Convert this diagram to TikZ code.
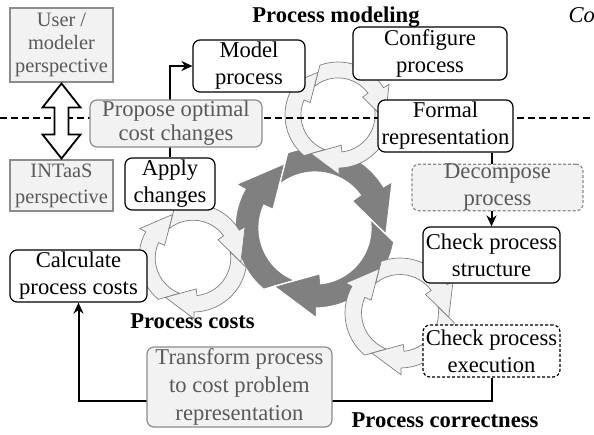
\documentclass[tikz,border=0pt]{standalone}
\usepackage{fontspec}
\setmainfont{Liberation Serif}
\newfontfamily\boxfont{Liberation Serif}
\usetikzlibrary{arrows.meta, calc}
\definecolor{ringgray}{HTML}{808080}
\definecolor{ringlight}{HTML}{F2F2F2}
\definecolor{ringline}{HTML}{7F7F7F}
\definecolor{boxgray}{HTML}{F2F2F2}
\definecolor{textgray}{HTML}{595959}
\definecolor{linegray}{HTML}{8C8C8C}
\tikzstyle{boxStep} = [rectangle, rounded corners=7pt, align=center, inner sep=0pt, draw=black, line width=1.2pt, fill=white, font=\boxfont\fontsize{22.6}{27}\selectfont]
\tikzstyle{boxCheck} = [boxStep, dash pattern=on 3pt off 2pt]
\tikzstyle{boxGray} = [boxStep, draw=linegray, fill=boxgray, text=textgray]
\tikzstyle{boxGrayDash} = [boxGray, dash pattern=on 3pt off 2pt]
\tikzstyle{boxView} = [rectangle, align=center, inner sep=0pt, draw=linegray, line width=1.2pt, fill=boxgray, text=textgray, font=\boxfont\fontsize{20.4}{23}\selectfont]
\tikzstyle{phase} = [font=\boxfont\fontsize{22.6}{27}\selectfont\bfseries, anchor=base]
\tikzstyle{arrow} = [line width=2pt, ->, >={Stealth[length=11pt,width=10pt]}]
\tikzstyle{sepline} = [line width=1.8pt, dash pattern=on 7pt off 4pt]
\tikzstyle{bigArrow} = [fill=ringgray, draw=white, line width=1.2pt]
\tikzstyle{smallArrow} = [fill=ringlight, draw=ringline, line width=0.7pt]
% ring of three arrows, clockwise
\newcommand{\cycleRing}[3]{%
  \begin{scope}[shift={#1}, scale=#2]
    \foreach \tip in {115,-5,-125}
      \path[#3] ({\tip+134}:0.70) -- ({\tip+115}:1) arc[start angle=\tip+115, end angle=\tip+36, radius=1]
        -- ({\tip+36}:1.125) -- (\tip:0.89) -- ({\tip+41}:0.575) -- ({\tip+41}:0.70)
        arc[start angle=\tip+41, end angle=\tip+134, radius=0.70] -- cycle;
  \end{scope}}

\begin{document}
\begin{tikzpicture}[x=1pt, y=1pt]
\useasboundingbox (0,0) rectangle (594,-434);

% cycles
\cycleRing{(315,-228)}{80}{bigArrow}
\cycleRing{(338,-115)}{53}{smallArrow}
\cycleRing{(193,-258)}{54}{smallArrow}
\cycleRing{(400,-313)}{55}{smallArrow}

\draw [sepline] (0,-118) -- (594,-118);

\node (model) [boxStep, minimum width=112pt, minimum height=52pt] at (249,-66) {Model\\process};
\node (config) [boxStep, minimum width=154pt, minimum height=53pt] at (430,-53.5) {Configure\\process};
\node (formal) [boxStep, minimum width=135pt, minimum height=52pt] at (445.5,-126) {Formal\\representation};
\node (check) [boxStep, minimum width=137pt, minimum height=56pt] at (491.5,-255) {Check process\\structure};
\node (exec) [boxCheck, minimum width=137pt, minimum height=52pt] at (491.5,-351) {Check process\\execution};
\node (calc) [boxStep, minimum width=137pt, minimum height=52pt] at (78.5,-276) {Calculate\\process costs};
\node (apply) [boxStep, minimum width=90pt, minimum height=52pt] at (170,-184) {Apply\\changes};

\draw [arrow] (apply.north) |- (model.west);
\draw [arrow] (formal.south -| check.north) -- (check.north);
\draw [arrow] (exec.south) -- ++(0,-23) -| (calc.south);

\node (decomp) [boxGrayDash, minimum width=171pt, minimum height=45pt] at (497.5,-187.5) {Decompose\\process};
\node (transf) [boxGray, minimum width=185pt, minimum height=80pt, font=\boxfont\fontsize{22.6}{28}\selectfont] at (239.5,-387) {Transform process\\to cost problem\\representation};
\node (propose) [boxGray, minimum width=172pt, minimum height=47pt, font=\boxfont\fontsize{22.6}{24}\selectfont] at (176,-123.5) {Propose optimal\\cost changes};

\node (modeling) [phase] at (336,-22) {Process modeling};
\node (co) [phase, font=\boxfont\fontsize{22.6}{27}\selectfont\itshape, anchor=base west] at (565,-22) {Co};
\node (costs) [phase] at (192.5,-328) {Process costs};
\node (correct) [phase] at (445,-427) {Process correctness};

\node (user) [boxView, minimum width=103pt, minimum height=74pt] at (61.5,-45) {User /\\modeler\\perspective};
\node (intaas) [boxView, minimum width=103pt, minimum height=51pt, font=\boxfont\fontsize{20.4}{26}\selectfont] at (61.5,-185.5) {INTaaS\\perspective};

\coordinate (swap) at ($(user.south)!0.5!(intaas.north)$);
\draw [line width=1.8pt, fill=white] (swap) ++(0,37.5) -- ++(19,-24) -- ++(-12,0) -- ++(0,-27) -- ++(12,0)
  -- ++(-19,-24) -- ++(-19,24) -- ++(12,0) -- ++(0,27) -- ++(-12,0) -- cycle;

\end{tikzpicture}
\end{document}
